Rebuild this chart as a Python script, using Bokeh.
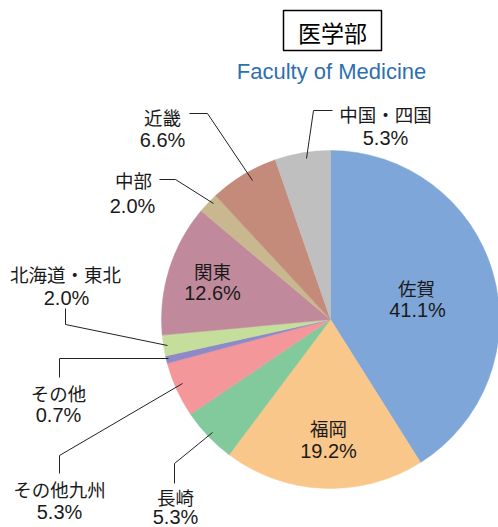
import math
from bokeh.plotting import figure
from bokeh.models import Range1d, ColumnDataSource
from bokeh.core.properties import value
from bokeh.embed import file_html
from bokeh.resources import INLINE

# ---- data ----
categories = ["佐賀", "福岡", "長崎", "その他九州", "その他", "北海道・東北", "関東", "中部", "近畿", "中国・四国"]
shares = [41.1, 19.2, 5.3, 5.3, 0.7, 2.0, 12.6, 2.0, 6.6, 5.3]
colors = ["#7EA6D8", "#FAC78A", "#82C99B", "#F4979B", "#8E8AC8",
          "#C5DE9C", "#C08A9C", "#C9B78F", "#C48A7A", "#BFBFBF"]
title_text = "医学部"
subtitle_text = "Faculty of Medicine"

# ---- layout (pixel coordinates of the reference picture) ----
W, H = 498, 527

def sy(y):
    return H - y

cx, cy, R = 330, 319, 169

name_pos = [(416, 287), (328, 427), (175, 496), (59, 488), (58, 392),
            (65, 273), (212, 270), (133, 179), (162, 116), (385, 113)]
pct_pos = [(417, 309), (328, 450), (175, 516), (59, 511), (58, 414),
           (66, 297), (212, 292), (132, 205), (162, 139), (385, 137)]

leaders = [None, None,
           [(212, 432), (174, 463), (174, 483)],
           [(182, 383), (59, 455), (59, 473)],
           [(168, 358), (59, 358), (59, 377)],
           [(167, 345), (65, 324), (65, 308)],
           None,
           [(213, 203), (175, 179), (159, 179)],
           [(252, 180), (207, 113), (189, 113)],
           [(306, 158), (313, 110), (332, 110)]]

p = figure(width=W, height=H, output_backend="svg", toolbar_location=None,
           x_range=Range1d(0, W), y_range=Range1d(0, H),
           x_axis_type=None, y_axis_type=None, min_border=0)
p.outline_line_color = None
p.grid.visible = False
p.background_fill_color = "white"
p.border_fill_color = "white"

total = sum(shares)
starts, ends = [], []
cum = 0.0
for s in shares:
    starts.append(math.pi / 2 - cum / total * 2 * math.pi)
    cum += s
    ends.append(math.pi / 2 - cum / total * 2 * math.pi)

src = ColumnDataSource(dict(start=starts, end=ends, color=colors))
p.wedge(x=cx, y=sy(cy), radius=R, start_angle="start", end_angle="end",
        direction="clock", fill_color="color", line_color="color",
        line_width=0.5, source=src)

for ld in leaders:
    if ld is None:
        continue
    p.line([q[0] for q in ld], [sy(q[1]) for q in ld], line_color="#222222", line_width=1)

cjk = value("Noto Sans CJK JP")
lat = value("Liberation Sans")
p.text(x=[q[0] for q in name_pos], y=[sy(q[1]) for q in name_pos], text=categories,
       text_font=cjk, text_font_size="18.5px", text_color="#1a1a1a",
       text_align="center", text_baseline="middle")
p.text(x=[q[0] for q in pct_pos], y=[sy(q[1]) for q in pct_pos],
       text=[f"{v:.1f}%" for v in shares],
       text_font=lat, text_font_size="20px", text_color="#1a1a1a",
       text_align="center", text_baseline="middle")

# title box
p.quad(left=[283], right=[381], top=[sy(10)], bottom=[sy(50)],
       fill_color="white", line_color="black", line_width=1.5)
p.text(x=[332], y=[sy(31)], text=[title_text], text_font=cjk,
       text_font_size="23px", text_color="black",
       text_align="center", text_baseline="middle")
p.text(x=[331], y=[sy(71)], text=[subtitle_text], text_font=lat,
       text_font_size="22px", text_color="#2E6FB0",
       text_align="center", text_baseline="middle")

open("out.html", "w").write(file_html(p, INLINE))
